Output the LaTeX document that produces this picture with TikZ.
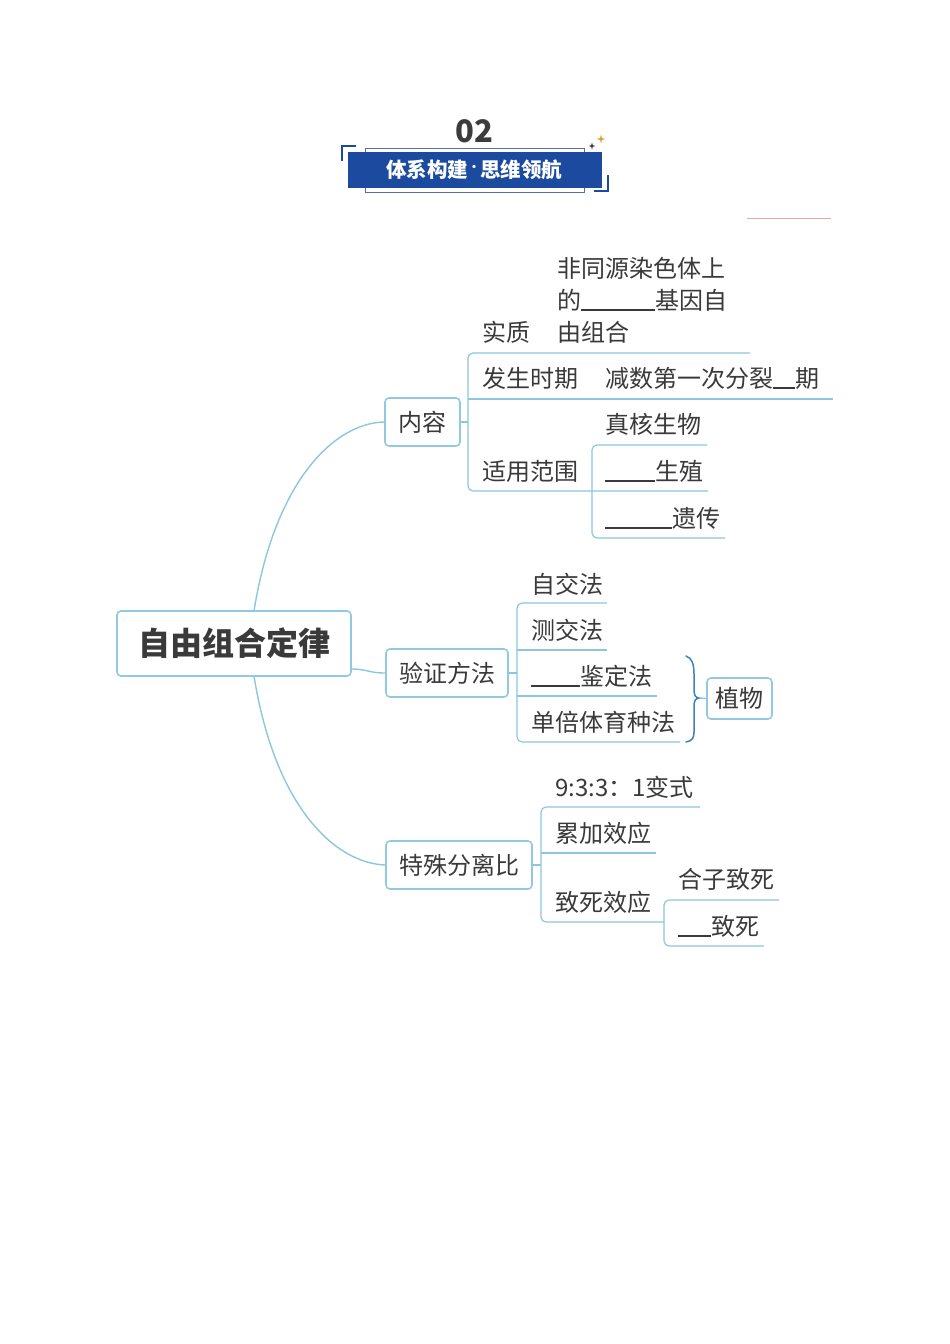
\documentclass[tikz,border=0pt]{standalone}
\usepackage{fontspec}
\setmainfont{Noto Sans CJK SC}
\definecolor{txt}{HTML}{3A3A3A}
\definecolor{linec}{HTML}{8CC6E0}
\definecolor{boxc}{HTML}{92C8E0}
\definecolor{hblue}{HTML}{1B4A9E}
\definecolor{framec}{HTML}{5B6F9C}
\definecolor{bracec}{HTML}{3C82BE}
\definecolor{numc}{HTML}{3C3C3C}
\definecolor{pinkc}{HTML}{E6A3AA}
\definecolor{starc}{HTML}{E39A3A}
\newcommand\blank[1]{\rule[-0.08em]{#1}{1.6pt}}
\begin{document}
\begin{tikzpicture}[x=1pt,y=-1pt,
  every node/.style={inner sep=0pt, text=txt},
  lbl/.style={anchor=west, font=\fontsize{24}{32}\selectfont, text height=18.2pt, text depth=0pt},
  box/.style={draw=boxc, line width=1.6pt, rounded corners=4pt, fill=white,
    font=\fontsize{24}{32}\selectfont, text height=18.2pt, text depth=0pt},
  link/.style={draw=linec, line width=1.4pt},
  tree/.style={draw=linec, line width=1.2pt, rounded corners=5pt}]
\useasboundingbox (0,0) rectangle (950,1344);
\fill[white] (0,0) rectangle (950,1344);

% ---------- header ----------
\draw[framec, line width=0.8pt] (365,148) rectangle (584,192);
\fill[hblue] (348,152) rectangle (602,188);
\draw[hblue, line width=2pt] (356,146) -- (342,146) -- (342,161);
\draw[hblue, line width=2pt] (594,191) -- (608,191) -- (608,175);
\fill[numc] (592,142.5) -- (592.8,145.2) -- (595.5,146) -- (592.8,146.8) -- (592,149.5) -- (591.2,146.8) -- (588.5,146) -- (591.2,145.2) -- cycle;
\fill[starc] (601,134.5) -- (601.9,138.1) -- (605.5,139) -- (601.9,139.9) -- (601,143.5) -- (600.1,139.9) -- (596.5,139) -- (600.1,138.1) -- cycle;
\node[font=\fontsize{31}{31}\selectfont\bfseries, text=numc, text height=22.6pt, text depth=0pt] (num) at (474,131) {02};
\node[font=\fontsize{20.5}{20}\selectfont\bfseries, text=white, text height=15.6pt, text depth=0pt] (title) at (474,170) {体系构建\raisebox{6pt}{\fontsize{12}{12}\selectfont•}思维领航};
\draw[pinkc, line width=1pt] (747,218) -- (831,218);

% ---------- boxes ----------
\node[box, minimum width=234pt, minimum height=65pt, font=\fontsize{32}{32}\selectfont\bfseries, text height=24.3pt] (root) at (234,643.5) {自由组合定律};
\node[box, minimum width=75pt, minimum height=48pt] (nr) at (422.5,422) {内容};
\node[box, minimum width=122pt, minimum height=48pt] (yz) at (447,673) {验证方法};
\node[box, minimum width=146pt, minimum height=48pt] (ts) at (459,865) {特殊分离比};
\node[box, minimum width=65pt, minimum height=41pt] (zw) at (739.5,698.5) {植物};

% ---------- root links ----------
\coordinate (rtop) at (254,611);
\coordinate (rbot) at (254,676);
\draw[link] (rtop) .. controls (275,480) and (335,423) .. (nr.west);
\draw[link] (rbot) .. controls (275,807) and (335,863) .. (ts.west);
\draw[link] (351,669) .. controls (368,669) and (368,673) .. (yz.west);

% ---------- 内容 subtree ----------
\node[lbl] (sz) at (482,332) {实质};
\node[anchor=base west, align=left, font=\fontsize{24}{32}\selectfont] (szc) at (557,341.1) {非同源染色体上\\的\blank{74pt}基因自\\由组合};
\node[lbl] (fs) at (482,378) {发生时期};
\node[lbl] (fsc) at (605,378) {减数第一次分裂\blank{22pt}期};
\node[lbl] (sy) at (482,471) {适用范围};
\node[lbl] (sy1) at (605,424) {真核生物};
\node[lbl] (sy2) at (605,471) {\blank{50pt}生殖};
\node[lbl] (sy3) at (605,518) {\blank{67pt}遗传};
\coordinate (nrj) at (468,422);
\draw[link] (nr.east) -- (nrj);
\draw[tree] (750,353) -- (468,353) -- (468,491) -- (708,491);
\draw[tree] (468,399) -- (833,399);
\draw[tree] (707,445) -- (592,445) -- (592,538) -- (725,538);

% ---------- 验证方法 subtree ----------
\node[lbl] (v1) at (531,584) {自交法};
\node[lbl] (v2) at (531,630) {测交法};
\node[lbl] (v3) at (531,676) {\blank{49pt}鉴定法};
\node[lbl] (v4) at (531,722) {单倍体育种法};
\coordinate (yzj) at (517,673);
\draw[link] (yz.east) -- (yzj);
\draw[tree] (607,603) -- (517,603) -- (517,742) -- (680,742);
\draw[tree] (517,650) -- (607,650);
\draw[tree] (517,696) -- (657,696);
\coordinate (brc) at (699,698);
\draw[bracec, line width=1.5pt, line cap=round] (686,656) .. controls (692,658) and (694,664) .. (694,674) -- (694,691) .. controls (694,695) and (696,698) .. (brc)
  .. controls (696,698) and (694,701) .. (694,705) -- (694,732) .. controls (694,738) and (692,741) .. (686,742);
\draw[link] (brc) -- (zw.west);

% ---------- 特殊分离比 subtree ----------
\node[lbl] (t1) at (555,787) {9:3:3：1变式};
\node[lbl] (t2) at (555,833) {累加效应};
\node[lbl] (t3) at (555,902) {致死效应};
\node[lbl] (t31) at (678,879) {合子致死};
\node[lbl] (t32) at (678,926) {\blank{33pt}致死};
\coordinate (tsj) at (541,865);
\draw[link] (ts.east) -- (tsj);
\draw[tree] (700,807) -- (541,807) -- (541,922) -- (664,922);
\draw[tree] (541,853) -- (656,853);
\draw[tree] (779,900) -- (664,900) -- (664,946) -- (764,946);
\end{tikzpicture}
\end{document}
